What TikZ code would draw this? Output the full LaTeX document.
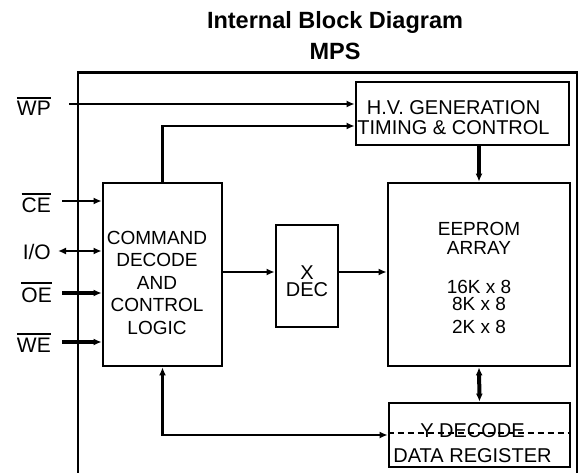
\documentclass[tikz,border=0pt]{standalone}
\usepackage{fontspec}
\setmainfont{Liberation Sans}
\usetikzlibrary{arrows.meta,positioning}
\newcommand{\barsig}[1]{\vbox{\hrule height 2pt\kern 3pt\hbox{#1}}}

\begin{document}
\begin{tikzpicture}[
    x=1pt, y=-1pt,
    >={Latex[length=8pt,width=7pt]},
    box/.style={draw, line width=2.7pt, inner sep=0pt},
    txt/.style={inner sep=0pt, align=center, anchor=base},
    sigl/.style={inner sep=0pt, anchor=base east, font=\fontsize{21}{21}\selectfont},
    sig/.style={line width=2.3pt, ->},
    bus/.style={line width=4pt},
    every node/.style={font=\fontsize{20}{20}\selectfont}
  ]
    \useasboundingbox (0,0) rectangle (578,473);

    % Title (anchored on the last line)
    \node[txt, font=\fontsize{23.5}{31}\selectfont\bfseries] (title) at (335,60)
      {Internal Block Diagram\\MPS};

    % Chip outline
    \draw[line width=2.7pt] (78,473) -- (78,72.7) -- (577,72.7) -- (577,473);

    % Blocks
    \node[box, minimum width=213pt, minimum height=63pt] (hv) at (462.5,113.5) {};
    \node[box, minimum width=119pt, minimum height=183pt] (cmd) at (162.5,274.5) {};
    \node[box, minimum width=62pt, minimum height=102pt] (xdec) at (307,276) {};
    \node[box, minimum width=182pt, minimum height=183pt] (eeprom) at (479,274.5) {};
    \node[box, minimum width=181pt, minimum height=64pt] (ydec) at (479.5,435) {};
    \draw[line width=2pt, dash pattern=on 6pt off 4pt]
      ([yshift=2pt]ydec.west) -- ([yshift=2pt]ydec.east);

    % Block texts
    \node[txt] (hvtxt) at (453.5,135) {H.V. GENERATION\\TIMING \& CONTROL};
    \node[txt, font=\fontsize{19}{22.5}\selectfont] (cmdtxt) at (157,334)
      {COMMAND\\DECODE\\AND\\CONTROL\\LOGIC};
    \node[txt, font=\fontsize{20}{17}\selectfont] (xdectxt) at (307,296) {X\\DEC};
    \node[txt, font=\fontsize{19}{19}\selectfont] (eeptxt) at (479,333)
      {EEPROM\\ARRAY\\[20pt]16K x 8\\[-2pt]8K x 8\\[4pt]2K x 8};
    \node[txt, font=\fontsize{20}{25}\selectfont] (ydectxt) at (472.5,462)
      {Y DECODE\\DATA REGISTER};

    % Pins
    \node[sigl] (wp) at (51,116) {\barsig{WP}};
    \node[sigl] (ce) at (51,213) {\barsig{CE}};
    \node[sigl] (io) at (51,259) {I/O};
    \node[sigl] (oe) at (52,302) {\barsig{OE}};
    \node[sigl] (we) at (51,352) {\barsig{WE}};
    \coordinate (wp-in) at (69,104);
    \coordinate (ce-in) at (62,201);
    \coordinate (io-in) at (58,251);
    \coordinate (oe-in) at (62,293);
    \coordinate (we-in) at (62,342);
    \coordinate (xlink) at ([yshift=4pt]xdec.west);

    % Arrows
    \draw[sig] (wp-in) -- (wp-in -| hv.west);
    \draw[sig] (cmd.north) |- ([yshift=-12.5pt]hv.west);
    \draw[sig, bus] (hv.south -| eeprom.north) -- (eeprom.north);
    \draw[sig] (ce-in) -- (ce-in -| cmd.west);
    \draw[sig, <->] (io-in) -- (io-in -| cmd.west);
    \draw[sig, bus] (oe-in) -- (oe-in -| cmd.west);
    \draw[sig, bus] (we-in) -- (we-in -| cmd.west);
    \draw[sig] (cmd.east |- xlink) -- (xlink);
    \draw[sig] (xdec.east |- xlink) -- (xlink -| eeprom.west);
    \draw[sig, bus, <->] (eeprom.south) -- (ydec.north);
    \draw[sig, <->] (cmd.south) |- (ydec.west);
  \end{tikzpicture}
\end{document}
